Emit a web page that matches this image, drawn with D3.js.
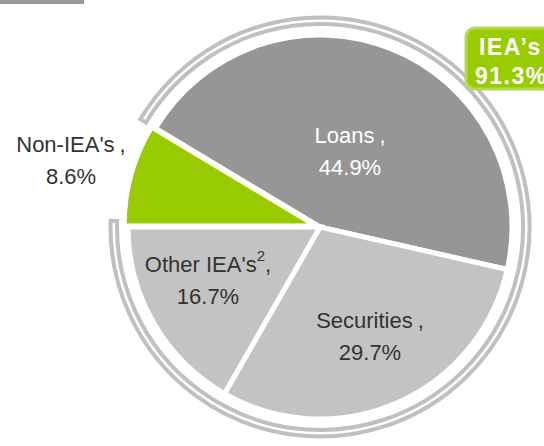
<!DOCTYPE html>
<html lang="en">
<head>
    <meta charset="UTF-8">
    <title>IEA breakdown</title>
    <script src="https://d3js.org/d3.v7.min.js"></script>
    <style>
        body { margin: 0; background: #fff; }
        text { font-family: "Liberation Sans", Arial, sans-serif; }
    </style>
</head>
<body>
    <svg width="544" height="446"></svg>
    <script>
        // data (order drawn clockwise starting at 9 o'clock)
        const segments = ["Non-IEA's", "Loans", "Securities", "Other IEA's"];
        const shares = [8.6, 44.9, 29.7, 16.7];
        const colors = ["#99cc00", "#969696", "#c3c3c3", "#c3c3c3"];
        const labelColors = ["#333333", "#ffffff", "#333333", "#333333"];
        const ieaTotal = "91.3%";

        const svg = d3.select("svg");
        const cx = 320, cy = 227, r = 192;

        // small grey bar top left
        svg.append("rect").attr("x", 0).attr("y", 0).attr("width", 84).attr("height", 4).attr("fill", "#999");

        const g = svg.append("g").attr("transform", `translate(${cx},${cy})`);

        const pie = d3.pie().sort(null).value(d => d)
            .startAngle(1.5 * Math.PI).endAngle(3.5 * Math.PI);
        const arcs = pie(shares);
        const arc = d3.arc().innerRadius(0).outerRadius(r);

        // bracket ring around the IEA part
        const ring = d3.arc().innerRadius(r + 11).outerRadius(r + 17.5)
            .startAngle(arcs[1].startAngle - 2 * Math.PI)
            .endAngle(arcs[3].endAngle - 2 * Math.PI + 0.03);
        g.append("path").attr("d", ring()).attr("fill", "#fff")
            .attr("stroke", "#c0c0c0").attr("stroke-width", 4);

        g.selectAll("path.slice")
            .data(arcs)
            .enter().append("path")
            .attr("class", "slice")
            .attr("d", arc)
            .attr("fill", (d, i) => colors[i])
            .attr("stroke", "#fff")
            .attr("stroke-width", 5)
            .attr("transform", (d, i) => {
                if (i !== 0) return null;
                const [x, y] = d3.arc().innerRadius(0).outerRadius(4).centroid(d).map(v => v * 2);
                return `translate(${x},${y})`;
            });

        // labels
        const labelPos = [[71, 152], [350, 143], [370, 328], [208, 272]];
        const lineGap = 32;
        labelPos.forEach(([x, y], i) => {
            const t = svg.append("text")
                .attr("x", x).attr("y", y)
                .attr("text-anchor", "middle")
                .attr("font-size", 22)
                .attr("fill", labelColors[i]);
            t.append("tspan").text(segments[i]);
            if (i === 3) {
                t.append("tspan").attr("font-size", 15).attr("dy", -11).text("2");
                t.append("tspan").attr("dy", 11).text(",");
            } else {
                t.append("tspan").attr("dx", 5).text(",");
            }
            svg.append("text")
                .attr("x", x).attr("y", y + lineGap)
                .attr("text-anchor", "middle")
                .attr("font-size", 22)
                .attr("fill", labelColors[i])
                .text(shares[i].toFixed(1) + "%");
        });

        // IEA's callout box
        svg.append("rect")
            .attr("x", 466).attr("y", 28).attr("width", 100).attr("height", 61)
            .attr("rx", 9)
            .attr("fill", "#99cc00").attr("stroke", "#b6da4c").attr("stroke-width", 3);
        svg.append("text").attr("x", 479).attr("y", 55)
            .attr("font-size", 23).attr("font-weight", "bold").attr("fill", "#fff")
            .attr("letter-spacing", 1.5)
            .text("IEA\u2019s");
        svg.append("text").attr("x", 475).attr("y", 84)
            .attr("font-size", 23).attr("font-weight", "bold").attr("fill", "#fff")
            .attr("letter-spacing", 1.5)
            .text(ieaTotal);
    </script>
</body>
</html>
